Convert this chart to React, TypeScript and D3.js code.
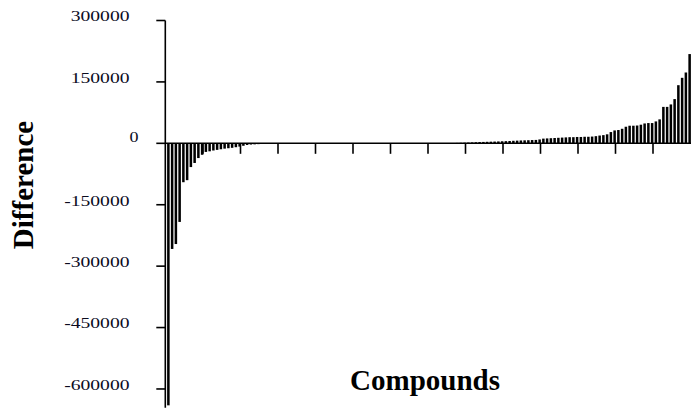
import React from "react";
import * as d3 from "d3";

const differences: number[] = [
  -640000, -258000, -246000, -192000, -95000, -90000, -58000, -48000, -36000, -28000,
  -21000, -19500, -17500, -16000, -14500, -13000, -12000, -11000, -9500, -8000,
  -6000, -4000, -3000, -2500, -2000, -1500, -1200, -800,
  0, 0, 0, 0, 0, 0, 0, 0, 0, 0, 0, 0, 0, 0, 0, 0, 0, 0, 0, 0, 0, 0,
  0, 0, 0, 0, 0, 0, 0, 0, 0, 0, 0, 0, 0, 0, 0, 0, 0, 0, 0, 0, 0, 0, 0, 0, 0,
  300, 600, 1000, 1300, 1600, 1900, 2300,
  2700, 3100, 3400, 3700, 4000, 4300, 4600, 5000, 5300, 5700,
  6200, 6600, 7000, 7300, 7600, 8000, 8300, 9500, 11500, 12000,
  12500, 13000, 13500, 14000, 14500, 15000, 15000, 15500, 15500, 16000,
  16000, 16500, 17500, 19000, 20000, 22000, 27500, 31500, 32500, 35500,
  40500, 43000, 43000, 43500, 45500, 48500, 49500, 49500, 53500, 58500,
  89000, 89000, 95000, 108000, 142000, 160000, 173000, 218000,
];
const compounds: string[] = differences.map((_, i) => `C${i + 1}`);
const yTicks: number[] = [300000, 150000, 0, -150000, -300000, -450000, -600000];
const xTickEvery = 10;
const yTitle = "Difference";
const xTitle = "Compounds";

export default function App() {
  const W = 700, H = 414;
  const axisX = 165.3;
  const x0 = 166.5, x1 = 691.5;
  const x = d3.scaleBand<string>().domain(compounds).range([x0, x1]).paddingInner(0.33).paddingOuter(0.165);
  const y = d3.scaleLinear().domain([-646000, 300000]).range([407.8, 20.5]);
  const step = x.step();
  const off = (step - x.bandwidth()) / 2;
  const tickIdx = d3.range(xTickEvery, compounds.length, xTickEvery);
  const font = "'Liberation Serif', 'Times New Roman', serif";
  const y0 = y(0);
  return (
    <svg width={W} height={H} style={{ position: "absolute", left: 0, top: 0, background: "#fff" }}>
      {tickIdx.map((i) => {
        const tx = (x(compounds[i]) as number) - off - 1;
        return <line key={"xt" + i} x1={tx} x2={tx} y1={y0} y2={y0 + 10.5} stroke="#000" strokeWidth={1.6} />;
      })}
      {differences.map((v, i) => (
        <rect
          key={i}
          x={x(compounds[i]) as number}
          width={x.bandwidth()}
          y={Math.min(y(v), y0)}
          height={Math.abs(y(v) - y0)}
          fill="#000"
        />
      ))}
      <line x1={axisX} x2={x1 - 0.5} y1={y0} y2={y0} stroke="#000" strokeWidth={1.6} />
      <line x1={axisX} x2={axisX} y1={y(300000)} y2={407.8} stroke="#000" strokeWidth={1.6} />
      {yTicks.map((t) => (
        <g key={"yt" + t}>
          <line x1={axisX - 9} x2={axisX} y1={y(t)} y2={y(t)} stroke="#000" strokeWidth={1.6} />
          <text
            x={t === 0 ? 138.5 : 129.5}
            y={t === 0 ? y(t) - 1 : y(t) + 0.8}
            textAnchor="end"
            fontFamily={font}
            fontSize={15.5}
            fill="#0b0b1e"
            textLength={t === 0 ? 9 : String(t).replace("-", "").length * 9.8 + (t < 0 ? 6.5 : 0)}
            lengthAdjust="spacingAndGlyphs"
          >
            {String(t)}
          </text>
        </g>
      ))}
      <text
        transform="translate(33,185) rotate(-90)"
        textAnchor="middle"
        fontFamily={font}
        fontWeight="bold"
        fontSize={29}
        fill="#000"
      >
        {yTitle}
      </text>
      <text x={425} y={390} textAnchor="middle" fontFamily={font} fontWeight="bold" fontSize={29} fill="#000">
        {xTitle}
      </text>
    </svg>
  );
}
